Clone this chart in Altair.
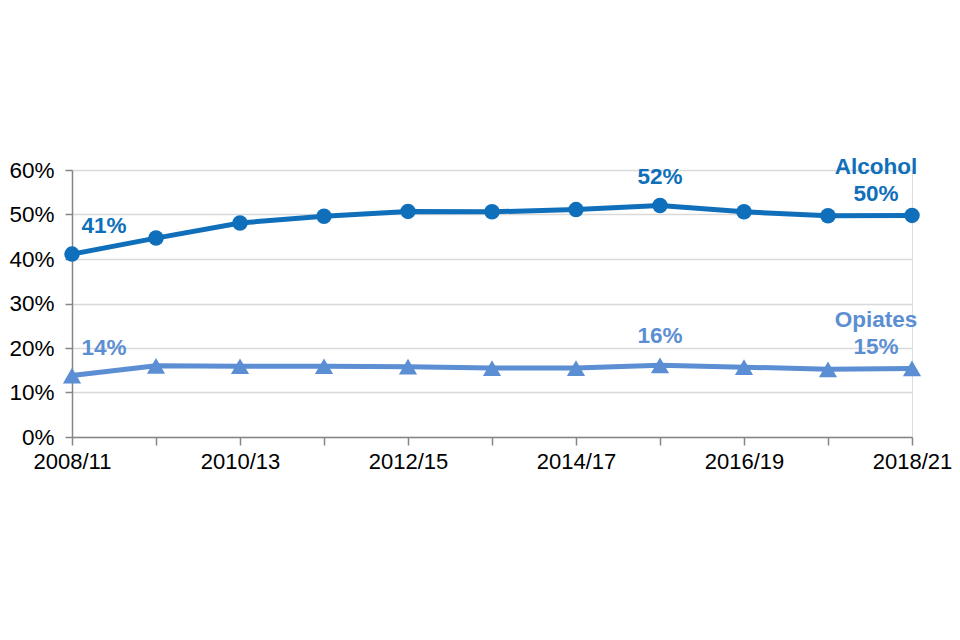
import altair as alt
import pandas as pd

periods = ["2008/11", "2009/12", "2010/13", "2011/14", "2012/15", "2013/16",
           "2014/17", "2015/18", "2016/19", "2017/20", "2018/21"]
alcohol = [41.1, 44.7, 48.1, 49.6, 50.7, 50.6, 51.1, 52.0, 50.6, 49.7, 49.8]
opiates = [13.8, 16.0, 15.9, 15.9, 15.8, 15.5, 15.5, 16.1, 15.7, 15.2, 15.4]
series_names = ["Alcohol", "Opiates"]
series_colors = ["#0F6FBA", "#5B8ED3"]

rows = []
for p, a, o in zip(periods, alcohol, opiates):
    rows.append({"period": p, "series": "Alcohol", "value": a / 100})
    rows.append({"period": p, "series": "Opiates", "value": o / 100})
df = pd.DataFrame(rows)

FONT = "Liberation Sans"

x = alt.X("period:O", sort=periods, title=None,
          scale=alt.Scale(type="point", padding=0),
          axis=alt.Axis(labelAngle=0, labelFontSize=22, labelColor="#000000",
                        labelFont=FONT, domainColor="#868686", domainWidth=1.5,
                        tickColor="#868686", tickSize=8, tickWidth=1.5,
                        labelPadding=6, grid=False, labelOverlap=False,
                        labelExpr="toNumber(substring(datum.label,0,4)) % 2 == 0 ? datum.label : ''"))
y = alt.Y("value:Q", title=None,
          scale=alt.Scale(domain=[0, 0.6]),
          axis=alt.Axis(format=".0%", values=[0, 0.1, 0.2, 0.3, 0.4, 0.5, 0.6],
                        labelFontSize=22.5, labelColor="#000000", labelFont=FONT,
                        domainColor="#868686", domainWidth=1.5,
                        tickColor="#868686", tickSize=7, tickWidth=1.5,
                        labelPadding=11, gridColor="#D9D9D9", gridWidth=1.5))
color = alt.Color("series:N", scale=alt.Scale(domain=series_names, range=series_colors),
                  legend=None)

base = alt.Chart(df).encode(x=x, y=y, color=color)

lines = base.mark_line(strokeWidth=5)
pts_a = base.transform_filter("datum.series == 'Alcohol'").mark_point(
    shape="circle", filled=True, size=240, opacity=1)
pts_o = base.transform_filter("datum.series == 'Opiates'").mark_point(
    shape="triangle-up", filled=True, size=330, opacity=1)

txt = dict(font=FONT, fontSize=22.5, fontWeight="bold", align="center", baseline="middle")

first = base.transform_filter(f"datum.period == '{periods[0]}'").mark_text(
    dx=32, dy=-28, **txt).encode(text=alt.Text("value:Q", format=".0%"))
peak = base.transform_filter(f"datum.period == '2015/18'").mark_text(
    dy=-29, **txt).encode(text=alt.Text("value:Q", format=".0%"))
last_val = base.transform_filter(f"datum.period == '{periods[-1]}'").mark_text(
    dx=-36, dy=-21, **txt).encode(text=alt.Text("value:Q", format=".0%"))
last_name = base.transform_filter(f"datum.period == '{periods[-1]}'").mark_text(
    dx=-36, dy=-48, **txt).encode(text="series:N")

chart = alt.layer(lines, pts_a, pts_o, first, peak, last_val, last_name).properties(
    width=840, height=267,
    autosize=alt.AutoSizeParams(type="none"),
    padding={"left": 64, "top": 162, "right": 40, "bottom": 195},
).configure_view(stroke="#FFFFFF", strokeOpacity=0, strokeWidth=0).configure(
    background="#FFFFFF")

chart.save("out.html", embed_options={"renderer": "svg", "actions": False})
